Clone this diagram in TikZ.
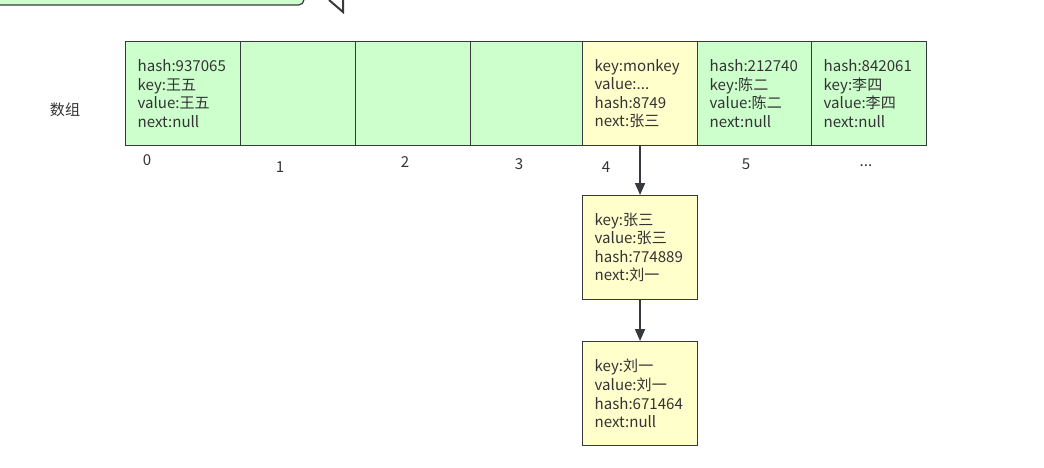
\documentclass[tikz,border=0pt]{standalone}
\usepackage{fontspec}
\setmainfont{Noto Sans CJK SC}
\usepackage{xcolor}
\usetikzlibrary{positioning,arrows.meta}

\definecolor{cellgreen}{HTML}{CCFFCC}
\definecolor{cellyellow}{HTML}{FFFFCC}
\definecolor{edgegray}{HTML}{36393D}
\definecolor{textgray}{HTML}{333333}

\tikzset{
    cell/.style={draw=edgegray, line width=0.8pt, fill=cellgreen, anchor=north west,
        minimum width=86.25pt, minimum height=78pt, inner sep=0pt,
        text width=68pt, align=left, text=textgray,
        font=\fontsize{11.3}{13.9}\selectfont},
    entry/.style={cell, fill=cellyellow},
    idx/.style={text=textgray, font=\fontsize{11.3}{13}\selectfont},
    link/.style={draw=edgegray, line width=1.4pt, -{Triangle[length=9pt,width=7.5pt]}}
}

\begin{document}
\begin{tikzpicture}[x=0.75pt, y=-0.75pt]
            \useasboundingbox (0,0) rectangle (1044,467);
            % cut-off shapes at the top
            \draw[draw=edgegray, line width=0.9pt, fill=cellgreen, rounded corners=4pt] (-10,-30) rectangle (304,5);
            \draw[draw=edgegray, line width=1.5pt] (329,0) -- (343,12) -- (343,-5);
            % array
            \node (lbl) at (65,110) [text=textgray, font=\fontsize{11.3}{13}\selectfont] {数组};
            \node[cell] (c0) at (125,41) {hash:937065\\key:王五\\value:王五\\next:null};
            \node[cell] (c1) at (240,41) {};
            \node[cell] (c2) at (355,41) {};
            \node[cell] (c3) at (470,41) {};
            \node[cell] (c5) at (697,41) {hash:212740\\key:陈二\\value:陈二\\next:null};
            \node[cell] (c6) at (811,41) {hash:842061\\key:李四\\value:李四\\next:null};
            \node[entry] (c4) at (582,41) {key:monkey\\value:...\\hash:8749\\next:张三};
            % indices
            \node[idx] (i0) at (147,160) {0};
            \node[idx] (i1) at (280,167) {1};
            \node[idx] (i2) at (405,162) {2};
            \node[idx] (i3) at (519,164) {3};
            \node[idx] (i4) at (606,167) {4};
            \node[idx] (i5) at (746,164) {5};
            \node[idx] (i6) at (866,166) {...};
            % chain
            \node[entry] (n1) at (582,195) {key:张三\\value:张三\\hash:774889\\next:刘一};
            \node[entry] (n2) at (582,341) {key:刘一\\value:刘一\\hash:671464\\next:null};
            \draw[link] (c4.south) -- (n1.north);
            \draw[link] (n1.south) -- (n2.north);
        \end{tikzpicture}
\end{document}
